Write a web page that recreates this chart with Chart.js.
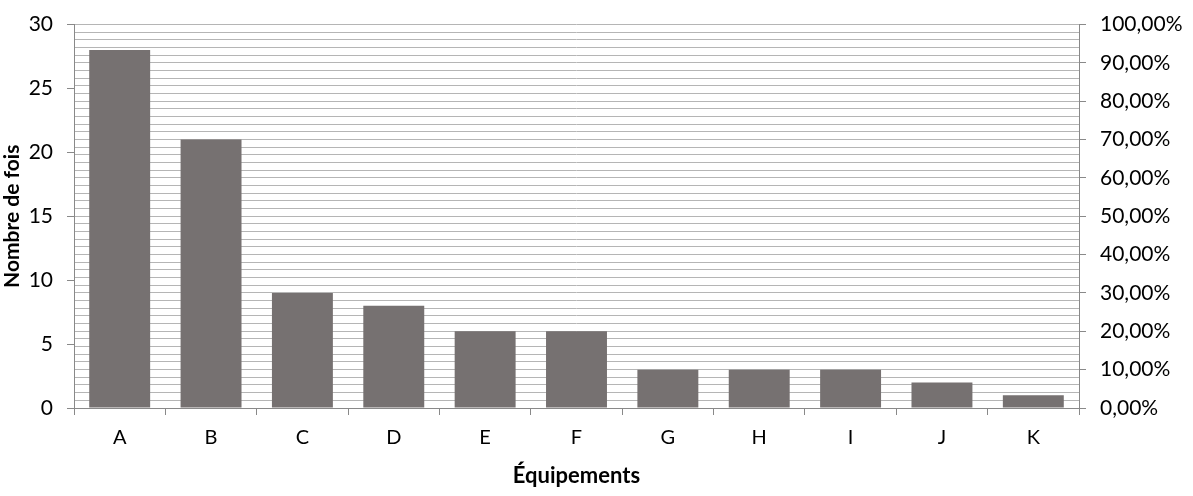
<!DOCTYPE html>
<html>
<head>
<meta charset="utf-8">
<script src="https://cdn.jsdelivr.net/npm/chart.js@4/dist/chart.umd.min.js"></script>
<style>
html,body{margin:0;padding:0;background:#fff;}
#wrap{width:1193px;height:496px;position:relative;}
</style>
</head>
<body>
<div id="wrap"><canvas id="c" width="1193" height="496"></canvas></div>
<script>
const categories = ['A','B','C','D','E','F','G','H','I','J','K'];
const counts = [28,21,9,8,6,6,3,3,3,2,1];
const leftTicks = [0,5,10,15,20,25,30];
const rightTicks = [0,10,20,30,40,50,60,70,80,90,100];
const xTitle = 'Équipements';
const yTitle = 'Nombre de fois';

const FONT = 'Lato';
const axisColor = '#898989';
const gridColor = '#b5b5b5';

new Chart(document.getElementById('c'), {
  type: 'bar',
  data: {
    labels: categories,
    datasets: [{
      data: counts,
      backgroundColor: '#767171',
      borderWidth: 0,
      categoryPercentage: 0.667,
      barPercentage: 1.0,
      yAxisID: 'y'
    }]
  },
  options: {
    responsive: false,
    animation: false,
    devicePixelRatio: 1,
    layout: {padding: {top: 23, right: 0, bottom: 0, left: 0}},
    plugins: {legend: {display: false}, tooltip: {enabled: false}},
    scales: {
      x: {
        grid: {display: true, drawOnChartArea: false, offset: true, tickLength: 7, color: axisColor, tickColor: axisColor},
        border: {display: true, color: axisColor, width: 1},
        ticks: {color: '#000', font: {family: FONT, size: 20}, padding: 11, maxRotation: 0},
        title: {display: true, text: xTitle, color: '#000', font: {family: FONT, size: 22, weight: 'bold'}, padding: {top: 0, bottom: 7}},
        afterFit: s => { s.height = 88; }
      },
      y: {
        position: 'left',
        min: 0, max: 30,
        afterBuildTicks: s => { s.ticks = leftTicks.map(v => ({value: v})); },
        grid: {display: true, drawOnChartArea: false, tickLength: 7, color: axisColor, tickColor: axisColor},
        border: {display: true, color: axisColor, width: 1},
        ticks: {color: '#000', font: {family: FONT, size: 21, lineHeight: 1}, padding: 14},
        title: {display: true, text: yTitle, color: '#000', font: {family: FONT, size: 21, weight: 'bold'}, padding: {top: 0, bottom: 0}},
        afterFit: s => { s.width = 74; }
      },
      y2: {
        axis: 'y',
        position: 'right',
        min: 0, max: 100,
        ticks: {
          stepSize: 2,
          autoSkip: false,
          color: '#000', font: {family: FONT, size: 21, lineHeight: 1}, padding: 14,
          callback: v => rightTicks.includes(v) ? v.toFixed(2).replace('.', ',') + '%' : ''
        },
        grid: {
          display: true, drawOnChartArea: true, tickLength: 7,
          color: gridColor,
          tickColor: ctx => (ctx.tick && rightTicks.includes(ctx.tick.value)) ? axisColor : 'rgba(0,0,0,0)'
        },
        border: {display: true, color: axisColor, width: 1},
        afterFit: s => { s.width = 114; }
      }
    }
  }
});
</script>
</body>
</html>
